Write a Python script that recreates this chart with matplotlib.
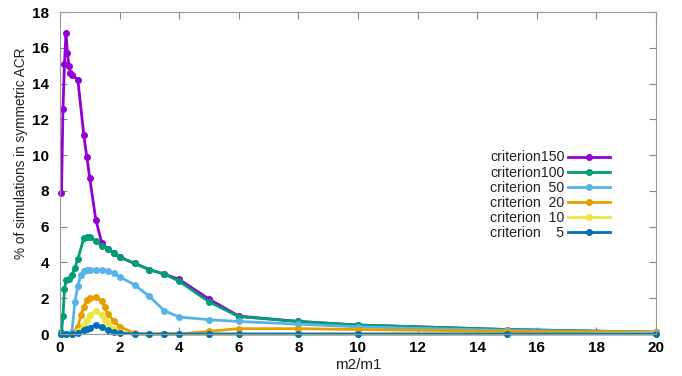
import matplotlib
matplotlib.use("Agg")
import matplotlib.pyplot as plt

plt.rcParams['font.family'] = ['Liberation Sans', 'DejaVu Sans']

# data
x150 = [0.05, 0.1, 0.15, 0.2, 0.25, 0.3, 0.35, 0.4, 0.6, 0.8, 0.9, 1.0, 1.2, 1.4,
        1.6, 1.8, 2.0, 2.5, 3.0, 3.5, 4.0, 5.0, 6.0, 8.0, 10.0, 15.0, 20.0]
y150 = [7.9, 12.6, 15.1, 16.8, 15.7, 15.0, 14.6, 14.5, 14.2, 11.1, 9.9, 8.7, 6.4, 5.1,
        4.75, 4.55, 4.3, 3.95, 3.6, 3.35, 3.05, 1.95, 1.0, 0.7, 0.5, 0.25, 0.1]

x100 = [0.05, 0.1, 0.15, 0.2, 0.3, 0.4, 0.5, 0.6, 0.8, 0.9, 1.0, 1.2, 1.4, 1.6, 1.8,
        2.0, 2.5, 3.0, 3.5, 4.0, 5.0, 6.0, 8.0, 10.0, 15.0, 20.0]
y100 = [0.1, 1.0, 2.5, 3.0, 3.1, 3.3, 3.7, 4.2, 5.35, 5.4, 5.4, 5.2, 4.9, 4.75, 4.55,
        4.3, 3.95, 3.6, 3.35, 2.95, 1.8, 0.97, 0.7, 0.5, 0.25, 0.1]

x50 = [0.05, 0.2, 0.4, 0.5, 0.6, 0.7, 0.8, 0.9, 1.0, 1.2, 1.4, 1.6, 1.8, 2.0, 2.5,
       3.0, 3.5, 4.0, 5.0, 6.0, 8.0, 10.0, 15.0, 20.0]
y50 = [0.0, 0.0, 0.1, 1.8, 2.7, 3.3, 3.5, 3.55, 3.6, 3.6, 3.6, 3.5, 3.4, 3.2, 2.75,
       2.1, 1.3, 0.95, 0.8, 0.7, 0.55, 0.4, 0.2, 0.1]

x20 = [0.05, 0.2, 0.4, 0.6, 0.7, 0.8, 0.9, 1.0, 1.2, 1.4, 1.5, 1.6, 1.8, 2.0, 2.5,
       3.0, 3.5, 4.0, 5.0, 6.0, 8.0, 10.0, 15.0, 20.0]
y20 = [0.0, 0.0, 0.0, 0.4, 1.05, 1.5, 1.9, 2.0, 2.05, 1.85, 1.5, 1.1, 0.75, 0.4, 0.05,
       0.0, 0.0, 0.0, 0.15, 0.3, 0.3, 0.25, 0.15, 0.1]

x10 = [0.05, 0.2, 0.4, 0.6, 0.8, 0.9, 1.0, 1.2, 1.4, 1.5, 1.6, 1.8, 2.0, 2.5, 3.0,
       4.0, 5.0, 6.0, 8.0, 10.0, 15.0, 20.0]
y10 = [0.0, 0.0, 0.0, 0.15, 0.5, 0.8, 1.05, 1.3, 1.05, 0.8, 0.6, 0.3, 0.1, 0.0, 0.0,
       0.0, 0.0, 0.0, 0.0, 0.0, 0.0, 0.05]

x5 = [0.05, 0.2, 0.4, 0.6, 0.8, 0.9, 1.0, 1.2, 1.4, 1.6, 1.8, 2.0, 2.5, 3.0, 3.5,
      4.0, 5.0, 6.0, 8.0, 10.0, 15.0, 20.0]
y5 = [0.0, 0.0, 0.0, 0.05, 0.2, 0.3, 0.35, 0.5, 0.4, 0.2, 0.1, 0.05, 0.0, 0.0, 0.0,
      0.0, 0.0, 0.0, 0.0, 0.0, 0.0, 0.0]

labels = ["criterion150", "criterion100", "criterion  50",
          "criterion  20", "criterion  10", "criterion    5"]
colors = ["#9400d3", "#009e73", "#56b4e9", "#e69f00", "#f0e442", "#0072b2"]

fig = plt.figure(figsize=(6.82, 3.76), dpi=100)
ax = fig.add_axes([60 / 682, 42 / 376, 596 / 682, 322 / 376])

series = [(x150, y150), (x100, y100), (x50, y50), (x20, y20), (x10, y10), (x5, y5)]
for (xs, ys), lab, c in zip(series, labels, colors):
    ax.plot(xs, ys, color=c, lw=2, marker='o', ms=4, label=lab, clip_on=False)

ax.set_xlim(0, 20)
ax.set_ylim(0, 18)
ax.set_xticks(range(0, 21, 2))
ax.set_yticks(range(0, 19, 2))
ax.tick_params(direction='in', top=True, right=True, length=5, color='#888888',
               labelsize=11)
ax.tick_params(axis='y', pad=8)
ax.tick_params(axis='x', pad=5)
for lab in ax.get_xticklabels() + ax.get_yticklabels():
    lab.set_fontweight('bold')
for s in ax.spines.values():
    s.set_color('#999999')
    s.set_linewidth(0.8)

ax.set_xlabel("m2/m1", fontsize=11, labelpad=2, color='#222222')
ax.set_ylabel("% of simulations in symmetric ACR", fontsize=9.8, color='#222222')
ax.yaxis.set_label_coords(-0.054, 0.56)

leg = ax.legend(loc='upper right', bbox_to_anchor=(0.935, 0.592), markerfirst=False,
                frameon=False, fontsize=10.2, handlelength=2.95, handletextpad=0.28,
                labelspacing=0.08, borderpad=0)
for t in leg.get_texts():
    t.set_color('#222222')

fig.savefig("out.png", dpi=100)
